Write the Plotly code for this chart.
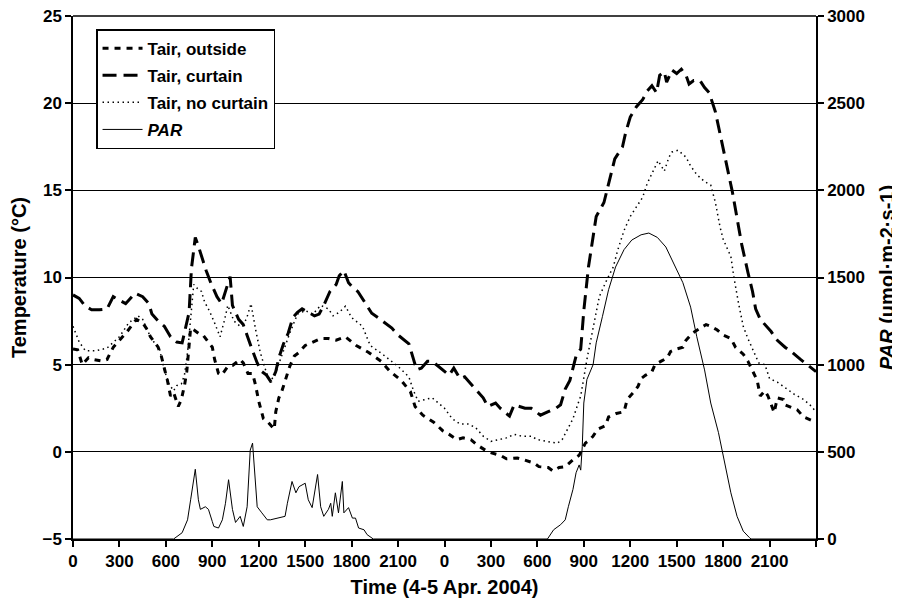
import plotly.graph_objects as go

# ---------------- data (hours since 0:00 on 4 Apr. 2004) ----------------
curtain_h = [0.0, 0.4, 0.8, 1.2, 1.7, 2.2, 2.6, 3.0, 3.4, 4.0, 4.5, 4.9, 5.1, 5.5, 5.9, 6.3, 6.7, 7.05,
             7.25, 7.5, 7.65, 7.9, 8.1, 8.3, 8.6, 8.9, 9.3, 9.6, 9.9, 10.15, 10.3, 10.7, 11.0, 11.3,
             11.6, 11.9, 12.2, 12.5, 12.8, 13.1, 13.3, 13.6, 13.9, 14.2, 14.5, 14.8, 15.2, 15.6, 15.9,
             16.2, 16.6, 17.0, 17.2, 17.5, 17.8, 18.1, 18.4, 18.9, 19.3, 19.7, 20.1, 20.6, 21.0, 21.3,
             21.7, 22.0, 22.2, 22.5, 22.9, 23.2, 23.6, 24.0, 24.3, 24.6, 25.0, 25.3, 25.6, 25.9, 26.5,
             26.8, 27.3, 27.6, 28.2, 28.5, 29.2, 29.6, 30.2, 30.7, 31.2, 31.5, 31.8, 32.1, 32.5, 32.8,
             33.0, 33.3, 33.5, 33.8, 34.3, 34.6, 35.0, 35.5, 35.7, 36.0, 36.4, 36.8, 37.1, 37.4, 37.7,
             37.9, 38.2, 38.35, 38.7, 39.0, 39.3, 39.6, 39.8, 40.1, 40.5, 40.8, 41.1, 41.5, 41.7, 42.0,
             42.3, 42.6, 43.0, 43.2, 43.6, 43.9, 44.1, 44.4, 45.1, 45.5, 46.0, 46.4, 47.0, 47.3, 47.9,
             48.0]
curtain_t = [9.0, 8.8, 8.35, 8.15, 8.15, 8.2, 8.9, 8.7, 8.5, 9.1, 8.9, 8.5, 7.9, 7.5, 7.2, 6.6, 6.3, 6.25,
             7.0, 8.0, 10.5, 12.3, 11.8, 11.2, 10.4, 9.7, 8.9, 8.5, 9.3, 10.05, 8.4, 7.6, 7.3, 6.5,
             5.8, 5.1, 4.6, 4.4, 4.0, 4.6, 5.4, 6.2, 6.8, 7.7, 8.0, 8.2, 8.0, 7.8, 7.9,
             8.4, 9.2, 9.6, 10.1, 10.4, 9.7, 9.4, 9.2, 8.5, 7.95, 7.7, 7.45, 7.1, 6.7, 6.5,
             6.2, 5.3, 4.7, 4.8, 5.2, 5.2, 4.9, 4.6, 4.4, 4.8, 4.2, 4.3, 4.0, 3.7, 3.1,
             2.6, 2.8, 2.5, 2.05, 2.7, 2.5, 2.5, 2.1, 2.3, 2.5, 2.7, 3.6, 4.1, 5.5, 5.9,
             8.1, 10.6, 11.7, 13.5, 14.3, 15.4, 16.8, 17.5, 18.3, 19.2, 19.8, 20.2, 20.7, 21.0, 20.6,
             21.6, 21.8, 21.2, 21.9, 21.7, 21.95, 21.6, 21.1, 21.3, 21.3, 20.9, 20.6, 19.5, 18.7, 17.5,
             16.2, 14.9, 12.9, 11.9, 10.3, 9.2, 8.2, 7.6, 6.9, 6.4, 6.0, 5.75, 5.3, 5.1, 4.7,
             4.6]

nocurt_h = [0.0, 0.4, 0.8, 1.5, 2.2, 2.6, 3.0, 3.3, 3.6, 4.2, 4.5, 4.8, 5.0, 5.3, 5.6, 5.9, 6.2, 6.5,
            6.7, 7.0, 7.2, 7.4, 7.5, 7.7, 7.8, 8.0, 8.3, 8.5, 8.8, 9.1, 9.5, 9.8, 10.0, 10.4, 10.8,
            11.2, 11.5, 11.8, 12.1, 12.4, 12.7, 13.0, 13.3, 13.6, 14.0, 14.5, 15.0, 15.5, 16.0, 16.5,
            16.8, 17.2, 17.6, 18.0, 18.7, 19.2, 20.0, 21.0, 21.7, 22.0, 22.3, 22.8, 23.2, 23.6, 24.0,
            24.5, 25.0, 25.5, 26.0, 26.5, 27.0, 27.5, 28.0, 28.5, 29.0, 29.6, 30.0, 30.6, 31.3, 31.6,
            32.0, 32.3, 32.6, 32.8, 33.2, 33.6, 34.0, 34.4, 34.9, 35.2, 35.6, 36.0, 36.3, 36.8, 37.1,
            37.5, 37.8, 38.2, 38.5, 38.7, 39.1, 39.6, 39.9, 40.3, 40.8, 41.2, 41.5, 41.8, 42.0, 42.5,
            42.7, 43.0, 43.3, 43.6, 44.0, 44.3, 44.7, 45.0, 45.5, 46.0, 46.6, 47.2, 47.6, 48.0]
nocurt_t = [7.2, 6.3, 5.8, 5.8, 5.95, 6.3, 6.6, 7.0, 7.4, 7.8, 7.6, 7.0, 6.6, 6.2, 5.85, 4.7, 3.9, 3.5,
            3.8, 3.9, 4.4, 5.7, 6.8, 8.7, 9.6, 9.4, 9.2, 8.6, 8.1, 7.5, 6.6, 7.6, 8.4, 7.5, 7.2,
            7.6, 8.5, 7.0, 5.7, 4.8, 4.1, 4.3, 5.1, 5.8, 6.8, 7.9, 8.1, 7.9, 8.4, 8.2,
            7.8, 8.0, 8.35, 7.7, 7.2, 6.1, 5.6, 4.9, 4.3, 3.5, 2.9, 3.0, 3.1, 2.8, 2.5,
            1.9, 1.6, 1.6, 1.4, 0.9, 0.6, 0.7, 0.8, 1.0, 0.9, 0.9, 0.7, 0.6, 0.5, 0.7,
            1.4, 1.9, 2.7, 3.2, 5.3, 7.2, 8.9, 9.7, 10.6, 11.6, 12.7, 13.5, 13.9, 14.6, 15.4,
            16.1, 16.7, 16.1, 16.9, 17.2, 17.3, 16.9, 16.4, 15.9, 15.5, 15.3, 14.3, 12.9, 12.2, 11.2,
            10.0, 8.5, 7.2, 6.5, 5.7, 5.1, 5.0, 4.2, 4.0, 3.7, 3.3, 3.0, 2.7, 2.3]

outside_h = [0.0, 0.3, 0.6, 1.0, 1.3, 1.9, 2.2, 2.6, 2.9, 3.2, 3.5, 4.1, 4.5, 4.8, 5.0, 5.3, 5.5, 5.7,
             5.9, 6.1, 6.3, 6.5, 6.8, 7.0, 7.2, 7.35, 7.45, 7.6, 7.8, 8.1, 8.4, 8.75, 9.0, 9.15, 9.4,
             9.6, 10.0, 10.3, 10.8, 11.0, 11.3, 11.6, 11.8, 12.0, 12.3, 12.6, 12.9, 13.0, 13.1, 13.3,
             13.5, 13.7, 14.0, 14.3, 14.6, 15.0, 15.5, 16.0, 16.5, 17.0, 17.6, 18.3, 19.1, 19.9, 20.5,
             21.2, 21.8, 22.1, 22.6, 23.3, 23.9, 24.3, 24.8, 25.2, 25.7, 26.1, 26.8, 27.6, 28.0, 28.7,
             29.1, 29.8, 30.1, 30.7, 31.0, 31.4, 31.8, 32.3, 32.7, 33.1, 33.4, 33.6, 33.9, 34.4, 34.6,
             35.1, 35.6, 35.8, 36.2, 36.5, 36.7, 37.0, 37.4, 37.6, 38.0, 38.4, 38.6, 39.0, 39.4, 39.6,
             40.0, 40.5, 40.9, 41.2, 41.6, 42.0, 42.5, 42.8, 43.3, 43.6, 43.9, 44.2, 44.4, 44.7, 44.9,
             45.3, 45.5, 45.9, 46.0, 46.8, 47.2, 47.8, 48.0]
outside_t = [5.9, 5.85, 5.0, 5.4, 5.3, 5.2, 5.3, 6.0, 6.3, 6.6, 6.9, 7.6, 7.4, 7.0, 6.6, 6.25, 6.0, 5.5,
             4.8, 4.1, 3.2, 3.4, 2.6, 3.0, 3.8, 4.6, 5.6, 7.1, 7.0, 6.8, 6.7, 6.25, 6.0, 5.3, 4.5,
             4.4, 4.9, 4.95, 5.3, 5.1, 4.5, 4.5, 3.8, 2.9, 1.9, 1.7, 1.4, 1.3, 2.3, 3.1,
             3.5, 4.1, 4.9, 5.5, 5.7, 6.1, 6.3, 6.5, 6.5, 6.4, 6.6, 6.1, 5.7, 5.2, 4.6,
             4.1, 3.45, 2.6, 2.1, 1.7, 1.2, 1.0, 0.7, 0.8, 0.7, 0.4, 0.0, -0.2, -0.4, -0.35,
             -0.45, -0.65, -0.85, -0.9, -1.1, -0.9, -0.85, -0.45, -0.2, 0.5, 0.7, 0.9, 1.3, 1.5, 2.0,
             2.2, 2.3, 3.0, 3.4, 3.75, 4.2, 4.4, 4.6, 5.0, 5.2, 5.4, 5.75, 5.9, 6.0, 6.4,
             6.8, 7.1, 7.3, 7.2, 7.0, 6.7, 6.5, 6.0, 5.6, 5.2, 4.6, 4.1, 3.2, 3.5, 3.2,
             2.25, 3.1, 3.0, 2.7, 2.4, 2.0, 1.75, 1.7]

par_h = [0.0, 6.5, 7.05, 7.4, 7.6, 7.8, 7.9, 8.1, 8.23, 8.55, 8.75, 9.0, 9.1, 9.4, 9.65, 9.85, 10.05,
         10.3, 10.5, 10.8, 11.0, 11.25, 11.45, 11.6, 11.8, 11.9, 12.2, 12.55, 12.75, 13.2, 13.7, 13.85,
         14.15, 14.4, 14.6, 15.0, 15.2, 15.45, 15.8, 16.0, 16.2, 16.5, 16.65, 16.75, 16.95, 17.15, 17.4,
         17.5, 17.8, 18.05, 18.25, 18.45, 18.8, 19.0, 19.4, 30.65, 31.05, 31.5, 31.8, 32.0, 32.3, 32.5,
         32.7, 32.8, 32.9, 33.0, 33.2, 33.6, 33.8, 34.2, 34.6, 35.05, 35.6, 36.1, 36.7, 37.2, 37.75,
         38.3, 38.8, 39.4, 39.9, 40.3, 40.8, 41.2, 41.7, 42.1, 42.5, 42.9, 43.3, 43.7, 43.8, 48.0]
par_v = [0, 0, 36, 110, 225, 340, 400, 225, 170, 185, 170, 100, 72, 63, 110, 205, 340,
         170, 95, 130, 72, 185, 510, 550, 300, 185, 150, 110, 110, 120, 130, 205,
         330, 265, 300, 320, 225, 180, 370, 185, 130, 170, 205, 130, 265, 150, 330,
         150, 180, 120, 120, 63, 53, 25, 0, 0, 53, 82, 110, 185, 285, 380,
         425, 395, 530, 780, 915, 1000, 1125, 1275, 1430, 1560, 1660, 1715, 1745, 1755, 1730,
         1675, 1585, 1470, 1330, 1160, 970, 780, 610, 435, 265, 130, 45, 8, 0, 0]

tick_vals = [0, 3, 6, 9, 12, 15, 18, 21, 24, 27, 30, 33, 36, 39, 42, 45, 48]
tick_text = ["0", "300", "600", "900", "1200", "1500", "1800", "2100",
             "0", "300", "600", "900", "1200", "1500", "1800", "2100", ""]

# ---------------- figure ----------------
FONT = "Liberation Sans, Arial, sans-serif"
fig = go.Figure()

fig.add_trace(go.Scatter(x=outside_h, y=outside_t, mode="lines", name="Tair, outside",
                         legendgroup="a",
                         line=dict(color="black", width=3, dash="6px,6px")))
fig.add_trace(go.Scatter(x=curtain_h, y=curtain_t, mode="lines", name="Tair, curtain",
                         legendgroup="b",
                         line=dict(color="black", width=3, dash="14px,7px")))
fig.add_trace(go.Scatter(x=nocurt_h, y=nocurt_t, mode="lines", name="Tair, no curtain",
                         legendgroup="c",
                         line=dict(color="black", width=1.5, dash="1.5px,3.5px")))
fig.add_trace(go.Scatter(x=par_h, y=par_v, mode="lines", name="<i>PAR</i>",
                         legendgroup="d", yaxis="y2",
                         line=dict(color="black", width=1)))

tick_font = dict(family=FONT, size=17, color="black", weight="bold")
title_font = dict(family=FONT, size=20, color="black", weight="bold")

# top gridline (at the upper end of the temperature range)
fig.add_shape(type="line", xref="paper", yref="paper", x0=0, x1=1, y0=1, y1=1,
              line=dict(color="black", width=1.5), layer="below")

# the page body adds an 8px offset, so the margins are set 8px smaller on the left/top
fig.update_layout(
    width=900, height=605,
    margin=dict(l=65, r=92, t=8, b=74, autoexpand=False),
    paper_bgcolor="white", plot_bgcolor="white",
    font=dict(family=FONT, size=16, color="black", weight="bold"),
    showlegend=True,
    legend=dict(x=0.031, y=0.975, xanchor="left", yanchor="top",
                bgcolor="white", bordercolor="black", borderwidth=1.5,
                font=dict(family=FONT, size=17, color="black", weight="bold"),
                traceorder="grouped", tracegroupgap=2, itemwidth=40),
    xaxis=dict(range=[0, 48], tickmode="array", tickvals=tick_vals, ticktext=tick_text,
               showgrid=False, zeroline=False, showline=True, linecolor="black", linewidth=1.5,
               ticks="outside", ticklen=6, tickcolor="black", tickwidth=1.5,
               tickfont=tick_font, automargin=False, ticklabeloverflow="allow",
               title=dict(text="Time (4-5 Apr. 2004)", standoff=10, font=title_font)),
    yaxis=dict(range=[-5, 25], dtick=5, tick0=-5, showgrid=True, gridcolor="black", gridwidth=1.2,
               zeroline=False, showline=True, linecolor="black", linewidth=1.5,
               ticks="outside", ticklen=6, tickcolor="black", tickwidth=1.5,
               tickfont=tick_font, automargin=False, ticklabeloverflow="allow",
               title=dict(text="Temperature (°C)", standoff=12, font=title_font)),
    yaxis2=dict(range=[0, 3000], dtick=500, overlaying="y", side="right", showgrid=False,
                zeroline=False, showline=True, linecolor="black", linewidth=1.5,
                ticks="outside", ticklen=6, tickcolor="black", tickwidth=1.5,
                tickfont=tick_font, automargin=False, ticklabeloverflow="allow",
                title=dict(text="<i>PAR</i> (umol·m-2·s-1)", standoff=16, font=title_font)),
)

fig.write_html("out.html")
